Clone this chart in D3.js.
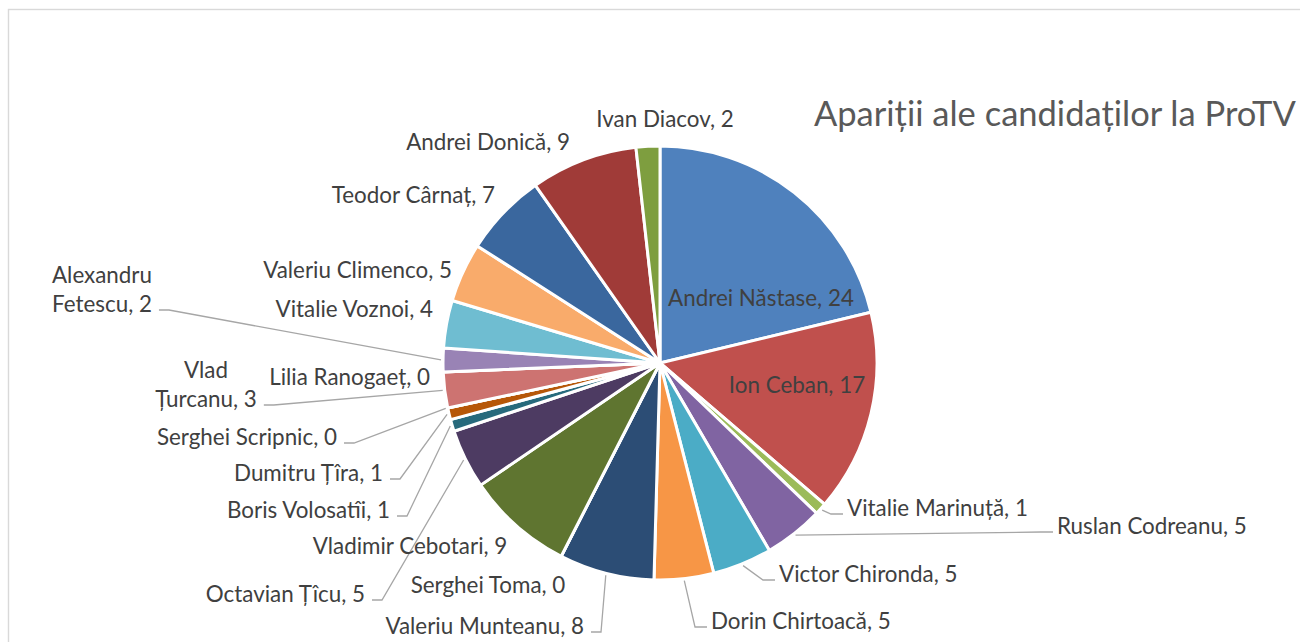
<!DOCTYPE html>
<html>
<head>
<meta charset="utf-8">
<script src="https://cdn.jsdelivr.net/npm/d3@7"></script>
<style>
  html, body { margin: 0; padding: 0; background: #fff; }
  svg { display: block; }
  text { font-family: Lato, "Open Sans", sans-serif; }
</style>
</head>
<body>
<svg id="chart" width="1300" height="642"></svg>
<script>
// Candidates and their number of appearances, in slice order (clockwise from 12 o'clock)
const candidates = [
  "Andrei Năstase", "Ion Ceban", "Vitalie Marinuță", "Ruslan Codreanu", "Victor Chironda",
  "Dorin Chirtoacă", "Valeriu Munteanu", "Serghei Toma", "Vladimir Cebotari", "Octavian Țîcu",
  "Boris Volosatîi", "Dumitru Țîra", "Serghei Scripnic", "Vlad Țurcanu", "Lilia Ranogaeț",
  "Alexandru Fetescu", "Vitalie Voznoi", "Valeriu Climenco", "Teodor Cârnaț", "Andrei Donică",
  "Ivan Diacov"
];
const appearances = [24, 17, 1, 5, 5, 5, 8, 0, 9, 5, 1, 1, 0, 3, 0, 2, 4, 5, 7, 9, 2];
const chartTitle = "Apariții ale candidaților la ProTV";

// Office theme palette with its darker / lighter variations
const palette = [
  "#4F81BD", "#C0504D", "#9BBB59", "#8064A2", "#4BACC6", "#F79646",
  "#2C4D75", "#772C2A", "#5F7530", "#4D3B62", "#276A7C", "#B65708",
  "#729ACA", "#CD7371", "#AFC97A", "#9983B5", "#6FBDD1", "#F9AB6B",
  "#3A679E", "#A03B38", "#7E9E3F"
];

// Data label placement: anchor, x, baseline of the last line, leader line, two-line wrap
const labelLayout = [
  { a: "middle", x: 761,  y: 306 },
  { a: "middle", x: 797,  y: 393 },
  { a: "start",  x: 847,  y: 516, lead: true },
  { a: "start",  x: 1057, y: 534, lead: true },
  { a: "start",  x: 779,  y: 582, lead: true },
  { a: "start",  x: 711,  y: 629, lead: true },
  { a: "end",    x: 584,  y: 634, lead: true },
  { a: "middle", x: 488,  y: 593 },
  { a: "middle", x: 410,  y: 554 },
  { a: "end",    x: 365,  y: 602, lead: true },
  { a: "end",    x: 390,  y: 518, lead: true },
  { a: "end",    x: 383,  y: 481, lead: true },
  { a: "end",    x: 337,  y: 445, lead: true },
  { a: "middle", x: 206,  y: 407, lead: true, wrap: true },
  { a: "end",    x: 430,  y: 385 },
  { a: "middle", x: 102,  y: 312, lead: true, wrap: true },
  { a: "end",    x: 433,  y: 317 },
  { a: "end",    x: 452,  y: 278 },
  { a: "end",    x: 495,  y: 203 },
  { a: "end",    x: 570,  y: 150 },
  { a: "middle", x: 665,  y: 127 }
];

const W = 1300, H = 642;
const cx = 660, cy = 363, radius = 217;
const labelSize = 22.4, lineGap = 29;

const svg = d3.select("#chart");

// chart area frame
svg.append("rect")
  .attr("x", 8.5).attr("y", 9.5)
  .attr("width", W + 50).attr("height", H + 50)
  .attr("fill", "#fff")
  .attr("stroke", "#D9D9D9")
  .attr("stroke-width", 1.4);

const data = candidates.map((name, i) => ({ name, value: appearances[i], i }));

const pie = d3.pie().sort(null).value(d => d.value);
const arcs = pie(data);

const arc = d3.arc().innerRadius(0).outerRadius(radius);
const edgeArc = d3.arc().innerRadius(radius + 2).outerRadius(radius + 2);

const g = svg.append("g").attr("transform", `translate(${cx},${cy})`);

g.selectAll("path.slice")
  .data(arcs)
  .join("path")
  .attr("class", "slice")
  .attr("d", arc)
  .attr("fill", d => palette[d.index])
  .attr("stroke", "#fff")
  .attr("stroke-width", 3)
  .attr("stroke-linejoin", "round");

// data labels
const labelsG = svg.append("g");
const leadersG = svg.insert("g", "g");

arcs.forEach(d => {
  const lay = labelLayout[d.index];
  const full = `${d.data.name}, ${d.data.value}`;
  let lines = [full];
  if (lay.wrap) {
    const sp = d.data.name.indexOf(" ");
    lines = [d.data.name.slice(0, sp), `${d.data.name.slice(sp + 1)}, ${d.data.value}`];
  }
  const t = labelsG.append("text")
    .attr("text-anchor", lay.a)
    .attr("font-size", labelSize)
    .attr("fill", "#404040");
  lines.forEach((ln, k) => {
    t.append("tspan")
      .attr("x", lay.x)
      .attr("y", lay.y - (lines.length - 1 - k) * lineGap)
      .text(ln);
  });

  if (lay.lead) {
    // width of the last line decides where the leader attaches
    const last = t.selectAll("tspan").nodes().pop();
    const wLast = last.getComputedTextLength();
    let left;
    if (lay.a === "start") left = lay.x;
    else if (lay.a === "end") left = lay.x - wLast;
    else left = lay.x - wLast / 2;
    const right = left + wLast;
    const yl = lay.y - 2;
    const [ex, ey] = edgeArc.centroid(d);
    const px = cx + ex, py = cy + ey;
    let pts;
    if (lay.x < cx) {
      pts = [[right + 7, yl], [right + 17, yl], [px, py]];
    } else {
      pts = [[left - 4, yl], [left - 16, yl], [px, py]];
    }
    leadersG.append("path")
      .attr("d", d3.line()(pts))
      .attr("fill", "none")
      .attr("stroke", "#A6A6A6")
      .attr("stroke-width", 1.3);
  }
});

// leaders sit above the slices but below the text
svg.node().appendChild(leadersG.node());
svg.node().appendChild(labelsG.node());

// title
svg.append("text")
  .attr("x", 814).attr("y", 126)
  .attr("font-size", 34.5)
  .attr("fill", "#595959")
  .text(chartTitle);
</script>
</body>
</html>
